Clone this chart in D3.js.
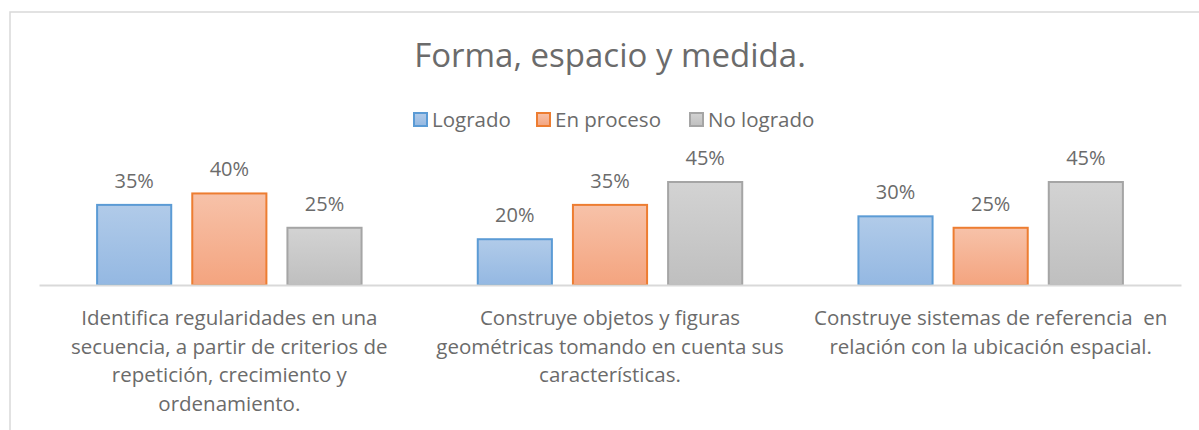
<!DOCTYPE html>
<html>
<head>
<meta charset="utf-8">
<script src="https://cdn.jsdelivr.net/npm/d3@7"></script>
<style>
  body { margin: 0; background: #fff; }
  svg { display: block; font-family: "Open Sans", Lato, sans-serif; }
</style>
</head>
<body>
<svg id="chart" width="1199" height="430"></svg>
<script>
// chart data
const title = 'Forma, espacio y medida.';
const categories = [
    'Identifica regularidades en una\nsecuencia, a partir de criterios de\nrepetición, crecimiento y\nordenamiento.',
    'Construye objetos y figuras\ngeométricas tomando en cuenta sus\ncaracterísticas.',
    'Construye sistemas de referencia  en\nrelación con la ubicación espacial.'
];
const seriesNames = ['Logrado', 'En proceso', 'No logrado'];
const logrado = [0.35, 0.20, 0.30];
const enProceso = [0.40, 0.35, 0.25];
const noLogrado = [0.25, 0.45, 0.45];

const seriesValues = [logrado, enProceso, noLogrado];
const colors = [
    {top: '#b1cbe9', bottom: '#94b8e2', stroke: '#5b9bd5'},
    {top: '#f7c2a9', bottom: '#f4a47f', stroke: '#ed7d31'},
    {top: '#d3d3d3', bottom: '#bfbfbf', stroke: '#a5a5a5'}
];

const svg = d3.select('#chart');
const textColor = '#6b6b6b';

// outer frame (only top and left edges visible in the crop)
svg.append('path')
    .attr('d', 'M10,430 V12 H1199')
    .attr('fill', 'none')
    .attr('stroke', '#d9d9d9')
    .attr('stroke-width', 1.5);

// gradients for the bars
const defs = svg.append('defs');
colors.forEach((c, i) => {
    const grad = defs.append('linearGradient')
        .attr('id', 'grad' + i)
        .attr('x1', 0).attr('y1', 0).attr('x2', 0).attr('y2', 1);
    grad.append('stop').attr('offset', '0%').attr('stop-color', c.top);
    grad.append('stop').attr('offset', '100%').attr('stop-color', c.bottom);
});

// scales
const x0 = d3.scaleBand()
    .domain(d3.range(categories.length))
    .range([39, 1181]);
const x1 = d3.scaleBand()
    .domain(d3.range(seriesNames.length))
    .range([0, x0.bandwidth()])
    .paddingInner(0.2)
    .paddingOuter(0.6);
const y = d3.scaleLinear()
    .domain([0, 0.45])
    .range([285, 182]);

// title
svg.append('text')
    .attr('x', 610)
    .attr('y', 67)
    .attr('text-anchor', 'middle')
    .attr('fill', textColor)
    .style('font-size', '33px')
    .text(title);

// legend
const legendX = [413, 536, 689];
const legend = svg.append('g').attr('class', 'legend');
const items = legend.selectAll('.legend-item')
    .data(seriesNames)
    .enter().append('g')
    .attr('class', 'legend-item')
    .attr('transform', (d, i) => `translate(${legendX[i]}, 112)`);
items.append('rect')
    .attr('x', 1).attr('y', 1)
    .attr('width', 13)
    .attr('height', 13)
    .attr('fill', (d, i) => `url(#grad${i})`)
    .attr('stroke', (d, i) => colors[i].stroke)
    .attr('stroke-width', 2);
items.append('text')
    .attr('x', 19)
    .attr('y', 15)
    .attr('fill', textColor)
    .style('font-size', '20.5px')
    .text(d => d);

// bars
const groups = svg.append('g').selectAll('g')
    .data(categories)
    .enter().append('g')
    .attr('transform', (d, i) => `translate(${x0(i)},0)`);

groups.each(function(cat, ci) {
    const g = d3.select(this);
    const vals = seriesValues.map(s => s[ci]);
    g.selectAll('rect')
        .data(vals)
        .enter().append('rect')
        .attr('x', (d, si) => x1(si) + 1)
        .attr('y', d => y(d))
        .attr('width', x1.bandwidth() - 2)
        .attr('height', d => y(0) - y(d))
        .attr('fill', (d, si) => `url(#grad${si})`)
        .attr('stroke', (d, si) => colors[si].stroke)
        .attr('stroke-width', 2);
    g.selectAll('.val')
        .data(vals)
        .enter().append('text')
        .attr('class', 'val')
        .attr('x', (d, si) => x1(si) + x1.bandwidth() / 2)
        .attr('y', d => y(d) - 17)
        .attr('text-anchor', 'middle')
        .attr('fill', textColor)
        .style('font-size', '20px')
        .text(d => d3.format('.0%')(d));
});

// category axis
const axis = svg.append('g')
    .attr('transform', `translate(0, ${y(0)})`)
    .call(d3.axisBottom(x0).tickSize(0).tickFormat(''));
axis.select('.domain').attr('stroke', '#d9d9d9').attr('stroke-width', 2);

const catLabels = svg.append('g').selectAll('text')
    .data(categories)
    .enter().append('text')
    .attr('x', (d, i) => x0(i) + x0.bandwidth() / 2)
    .attr('y', 325)
    .attr('text-anchor', 'middle')
    .attr('fill', textColor)
    .style('font-size', '20.5px');
catLabels.selectAll('tspan')
    .data(d => d.split('\n'))
    .enter().append('tspan')
    .attr('x', function() { return d3.select(this.parentNode).attr('x'); })
    .attr('dy', (d, i) => i === 0 ? 0 : 28.7)
    .style('white-space', 'pre')
    .text(d => d);
</script>
</body>
</html>
